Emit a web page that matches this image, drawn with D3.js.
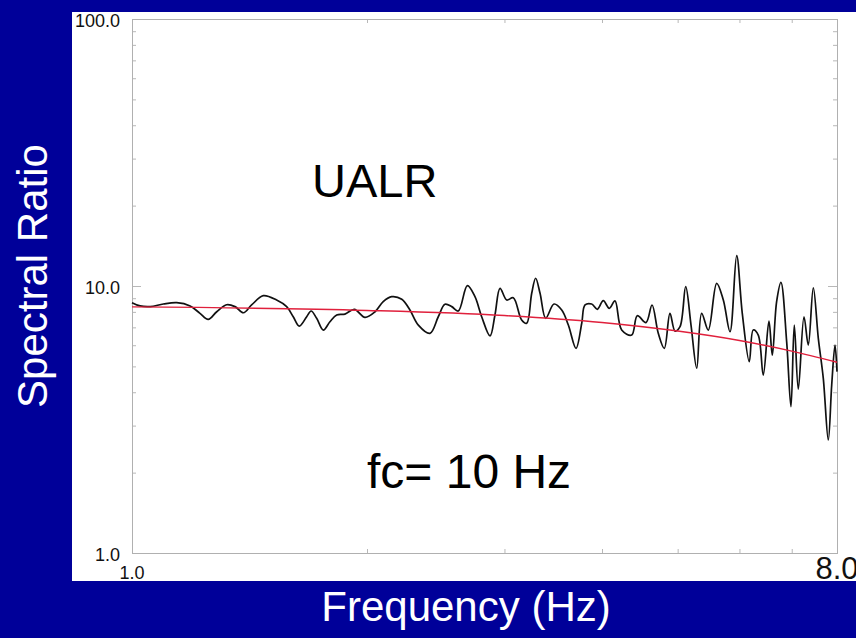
<!DOCTYPE html>
<html>
<head>
<meta charset="utf-8">
<script src="https://cdn.jsdelivr.net/npm/d3@7"></script>
<style>
    html, body { margin: 0; padding: 0; background: #000099; }
    svg { display: block; font-family: "Liberation Sans", Arial, sans-serif; }
</style>
</head>
<body>
<div id="chart"></div>
<script>
// spectral ratio (frequency in Hz, ratio)
let freqs = [1.0, 1.024, 1.055, 1.097, 1.141, 1.187, 1.222, 1.252, 1.284, 1.322,
    1.355, 1.389, 1.423, 1.473, 1.532, 1.578, 1.609, 1.638, 1.674, 1.696,
    1.724, 1.758, 1.793, 1.829, 1.874, 1.927, 1.988, 2.048, 2.098, 2.151,
    2.216, 2.270, 2.327, 2.408, 2.468, 2.517, 2.568, 2.618, 2.689, 2.750,
    2.805, 2.875, 2.917, 2.961, 3.020, 3.079, 3.156, 3.203, 3.251, 3.289,
    3.332, 3.388, 3.472, 3.552, 3.622, 3.705, 3.768, 3.805, 3.880, 3.945,
    4.015, 4.087, 4.156, 4.239, 4.366, 4.439, 4.554, 4.636, 4.722, 4.807,
    4.888, 4.961, 5.035, 5.120, 5.201, 5.289, 5.367, 5.473, 5.610, 5.721,
    5.835, 5.951, 6.050, 6.176, 6.249, 6.342, 6.436, 6.545, 6.610, 6.695,
    6.781, 6.896, 6.984, 7.053, 7.137, 7.258, 7.350, 7.460, 7.571, 7.683,
    7.797, 7.876, 7.953, 8.0];
let ratios = [8.66, 8.42, 8.37, 8.56, 8.66, 8.42, 7.90, 7.50, 8.01, 8.51,
    8.37, 7.94, 8.49, 9.20, 8.86, 8.37, 7.67, 7.08, 7.67, 8.06,
    7.57, 6.84, 7.35, 7.79, 7.85, 8.18, 7.63, 8.01, 8.74, 9.12,
    8.92, 8.13, 7.14, 6.65, 7.67, 8.54, 8.37, 8.06, 10.03, 9.12,
    7.67, 6.50, 7.79, 9.80, 8.86, 9.04, 7.46, 7.25, 9.39, 10.69,
    9.39, 7.57, 8.56, 8.13, 7.14, 5.84, 7.25, 8.49, 8.56, 8.18,
    8.81, 8.25, 8.79, 6.84, 6.55, 7.74, 7.29, 8.49, 6.65, 5.84,
    7.90, 6.78, 7.04, 9.94, 7.14, 4.92, 7.90, 6.84, 10.23, 8.86,
    6.74, 12.99, 7.90, 5.21, 6.84, 6.55, 4.64, 7.39, 5.51, 8.74,
    10.32, 6.19, 3.53, 7.14, 4.11, 7.67, 6.01, 9.85, 6.37, 4.51,
    2.65, 4.26, 6.01, 4.78];

// fitted source model (red)
let fitFreqs = [1, 2, 3, 4, 5, 6, 7, 8];
let fitRatios = [8.35, 8.10, 7.75, 7.30, 6.78, 6.25, 5.70, 5.18];

let xDomain = [1, 8],
    yDomain = [1, 100];
let xMinorTicks = [2, 3, 4, 5, 6, 7];
let yMinorTicks = [2, 3, 4, 5, 6, 7, 8, 9, 20, 30, 40, 50, 60, 70, 80, 90];
let yMajorTicks = [10];
let yTickLabels = [{v: 1, t: "1.0"}, {v: 10, t: "10.0"}, {v: 100, t: "100.0"}];
let xTickLabels = [{v: 1, t: "1.0", size: 18}, {v: 8, t: "8.0", size: 31}];

let title = "UALR",
    note = "fc= 10 Hz",
    xTitle = "Frequency (Hz)",
    yTitle = "Spectral Ratio";

(function () {
    let width = 856, height = 638,
        plot = {left: 132, right: 837, top: 19, bottom: 553};

    let svg = d3.select('#chart').append('svg')
        .attr('width', width)
        .attr('height', height);

    svg.append('rect')
        .attr('width', width).attr('height', height)
        .attr('fill', '#000099');

    // white panel
    svg.append('rect')
        .attr('x', 72).attr('y', 12)
        .attr('width', width - 72).attr('height', 569)
        .attr('fill', '#ffffff');

    let x = d3.scaleLog().domain(xDomain).range([plot.left, plot.right]),
        y = d3.scaleLog().domain(yDomain).range([plot.bottom, plot.top]);

    let tickColor = '#b8b8b8';

    // inward ticks on all four sides
    function ticks(axisFn, scale, values, size, tx, ty) {
        let g = svg.append('g')
            .attr('transform', 'translate(' + tx + ',' + ty + ')')
            .call(axisFn(scale).tickValues(values).tickSize(size).tickFormat(''));
        g.select('.domain').remove();
        g.selectAll('line').attr('stroke', tickColor).attr('stroke-width', 1);
    }

    ticks(d3.axisLeft, y, yMinorTicks, -4, plot.left, 0);
    ticks(d3.axisLeft, y, yMajorTicks, -9, plot.left, 0);
    ticks(d3.axisRight, y, yMinorTicks, -4, plot.right, 0);
    ticks(d3.axisRight, y, yMajorTicks, -9, plot.right, 0);
    ticks(d3.axisBottom, x, xMinorTicks, -4, 0, plot.bottom);
    ticks(d3.axisTop, x, xMinorTicks, -4, 0, plot.top);

    svg.append('rect')
        .attr('x', plot.left + 0.5).attr('y', plot.top + 0.5)
        .attr('width', plot.right - plot.left).attr('height', plot.bottom - plot.top)
        .attr('fill', 'none')
        .attr('stroke', '#b0b0b0')
        .attr('stroke-width', 1);

    // tick labels
    svg.selectAll('.ylab')
        .data(yTickLabels)
        .enter().append('text')
        .attr('x', 120)
        .attr('y', d => y(d.v) + 8)
        .attr('text-anchor', 'end')
        .attr('font-size', 18)
        .attr('fill', '#111')
        .text(d => d.t);

    svg.selectAll('.xlab')
        .data(xTickLabels)
        .enter().append('text')
        .attr('x', d => x(d.v))
        .attr('y', 579)
        .attr('text-anchor', 'middle')
        .attr('font-size', d => d.size)
        .attr('fill', '#111')
        .text(d => d.t);

    // curves
    let pts = freqs.map((f, i) => ({f: f, v: ratios[i]})),
        fit = fitFreqs.map((f, i) => ({f: f, v: fitRatios[i]}));

    let line = d3.line()
        .x(d => x(d.f))
        .y(d => y(d.v))
        .curve(d3.curveCatmullRom.alpha(0.5));

    svg.append('path')
        .datum(pts)
        .attr('fill', 'none')
        .attr('stroke', '#111')
        .attr('stroke-width', 1.7)
        .attr('d', line);

    svg.append('path')
        .datum(fit)
        .attr('fill', 'none')
        .attr('stroke', '#e0203c')
        .attr('stroke-width', 1.4)
        .attr('d', line.curve(d3.curveMonotoneX));

    // annotations
    svg.append('text')
        .attr('x', 312).attr('y', 197)
        .attr('font-size', 47)
        .attr('fill', '#000')
        .text(title);

    svg.append('text')
        .attr('x', 367).attr('y', 488)
        .attr('font-size', 48)
        .attr('fill', '#000')
        .text(note);

    svg.append('text')
        .attr('x', 466).attr('y', 621)
        .attr('text-anchor', 'middle')
        .attr('font-size', 42)
        .attr('fill', '#fff')
        .text(xTitle);

    svg.append('text')
        .attr('transform', 'translate(47,' + 276 + ') rotate(-90)')
        .attr('text-anchor', 'middle')
        .attr('font-size', 42)
        .attr('fill', '#fff')
        .text(yTitle);
})();
</script>
</body>
</html>
